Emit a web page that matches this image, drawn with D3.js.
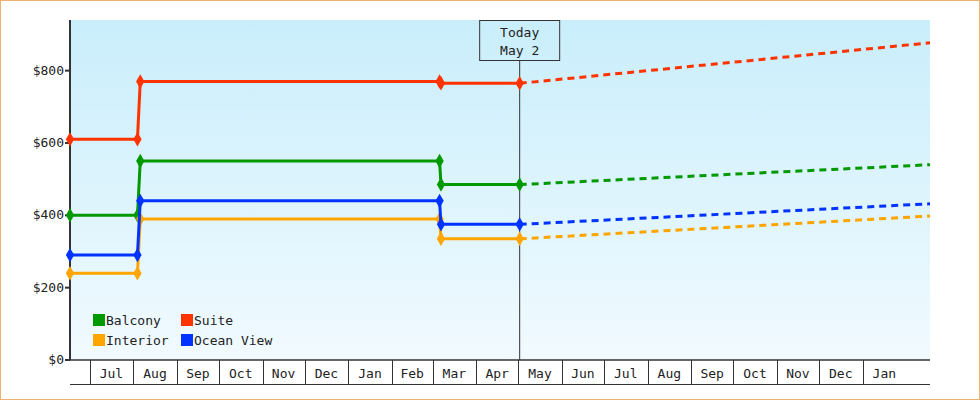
<!DOCTYPE html>
<html><head><meta charset="utf-8">
<script src="https://cdn.jsdelivr.net/npm/d3@7"></script>
<style>body{margin:0;background:#fff}text{font-family:"DejaVu Sans Mono",monospace;font-size:13px;fill:#222}</style>
</head><body><svg id="c" width="980" height="400"></svg>
<script>
const dates = ["2023-06-17","2023-08-04","2023-08-06","2024-03-06","2024-03-07","2024-05-02"];
const projEnd = "2025-02-18";
const balcony = [400,400,550,550,485,485];
const suite = [610,610,770,770,765,765];
const oceanView = [290,290,440,440,375,375];
const interior = [240,240,390,390,335,335];
const projected = {Balcony:540, Suite:877, "Ocean View":432, Interior:398};
const yTicks = [0,200,400,600,800];
const series = [
 {name:"Balcony", vals:balcony, color:"#009900"},
 {name:"Suite", vals:suite, color:"#ff3300"},
 {name:"Interior", vals:interior, color:"#ffa500"},
 {name:"Ocean View", vals:oceanView, color:"#0033ff"}
];
const P = d3.timeParse("%Y-%m-%d");
const svg = d3.select("#c");
const L=70,R=930,T=20,B=360;
const x = d3.scaleTime().domain([P("2023-06-17"),P(projEnd)]).range([L,R]);
const y = d3.scaleLinear().domain([0,940]).range([B,T]);
const defs=svg.append("defs");
const g=defs.append("linearGradient").attr("id","bg").attr("x1",0).attr("x2",0).attr("y1",0).attr("y2",1);
g.append("stop").attr("offset",0).attr("stop-color","#c9eefb");
g.append("stop").attr("offset",1).attr("stop-color","#f1faff");
svg.append("rect").attr("x",0.5).attr("y",0.5).attr("width",979).attr("height",399).attr("fill","#fff").attr("stroke","#f0b070");
svg.append("rect").attr("x",L).attr("y",T).attr("width",R-L).attr("height",B-T).attr("fill","url(#bg)");
// y axis
svg.append("line").attr("x1",L).attr("x2",L).attr("y1",T).attr("y2",B).attr("stroke","#333").attr("stroke-width",2);
yTicks.forEach(v=>{
 svg.append("line").attr("x1",L-5).attr("x2",L).attr("y1",y(v)).attr("y2",y(v)).attr("stroke","#333").attr("stroke-width",2);
 svg.append("text").attr("x",L-6).attr("y",y(v)+4).attr("text-anchor","end").text("$"+v);
});
// x axis cells
svg.append("line").attr("x1",L).attr("x2",R).attr("y1",B).attr("y2",B).attr("stroke","#333").attr("stroke-width",1.5);
svg.append("line").attr("x1",L).attr("x2",R).attr("y1",384.5).attr("y2",384.5).attr("stroke","#333");
const months = d3.timeMonth.range(P("2023-07-01"),P("2025-02-01"));
months.forEach(m=>{
 const xs=Math.round(x(m))+0.5;
 svg.append("line").attr("x1",xs).attr("x2",xs).attr("y1",B).attr("y2",384).attr("stroke","#333");
 const nx=x(d3.timeMonth.offset(m,1));
 if(nx<=R) svg.append("text").attr("x",(x(m)+nx)/2).attr("y",378).attr("text-anchor","middle").text(d3.timeFormat("%b")(m));
});
// today
const today=P("2024-05-02");
svg.append("line").attr("x1",x(today)).attr("x2",x(today)).attr("y1",60).attr("y2",B).attr("stroke","#333");
svg.append("rect").attr("x",x(today)-40).attr("y",20.5).attr("width",80).attr("height",40).attr("fill","none").attr("stroke","#333");
svg.append("text").attr("x",x(today)).attr("y",37).attr("text-anchor","middle").text("Today");
svg.append("text").attr("x",x(today)).attr("y",55).attr("text-anchor","middle").text("May 2");
// series
const line=d3.line().x(d=>x(d[0])).y(d=>y(d[1]));
series.forEach(s=>{
 const pts=dates.map((d,i)=>[P(d),s.vals[i]]);
 svg.append("path").attr("d",line([pts[5],[P(projEnd),projected[s.name]]])).attr("fill","none").attr("stroke",s.color).attr("stroke-width",3).attr("stroke-dasharray","7,5");
});
series.forEach(s=>{
 const pts=dates.map((d,i)=>[P(d),s.vals[i]]);
 svg.append("path").attr("d",line(pts)).attr("fill","none").attr("stroke",s.color).attr("stroke-width",3);
 pts.forEach(p=>svg.append("path").attr("d",d3.symbol(d3.symbolDiamond,60)()).attr("transform",`translate(${x(p[0])},${y(p[1])})`).attr("fill",s.color));
});
// legend
const leg=[["Balcony",93,320,"#009900"],["Suite",181,320,"#ff3300"],["Interior",93,340,"#ffa500"],["Ocean View",181,340,"#0033ff"]];
leg.forEach(l=>{
 svg.append("rect").attr("x",l[1]).attr("y",l[2]-6).attr("width",12).attr("height",12).attr("fill",l[3]);
 svg.append("text").attr("x",l[1]+13).attr("y",l[2]+5).text(l[0]);
});
</script></body></html>
